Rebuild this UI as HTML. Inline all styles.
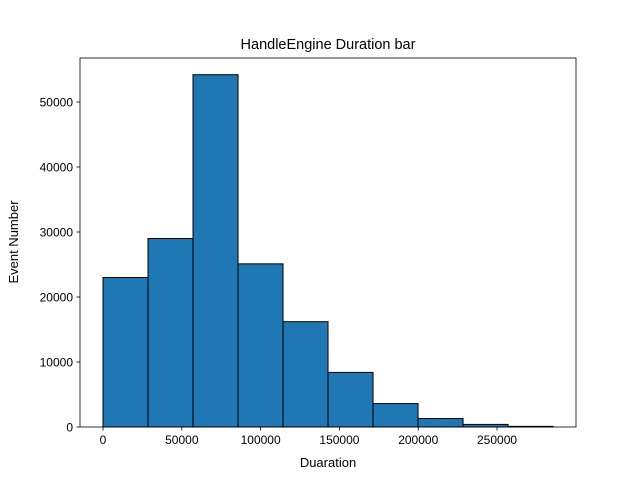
<!DOCTYPE html>
<html><head><meta charset="utf-8"><style>body{margin:0;background:#fff}svg{display:block;font-family:"Liberation Sans","DejaVu Sans",sans-serif}</style></head>
<body>
<svg id="chart" width="640" height="480" viewBox="0 0 640 480" xmlns="http://www.w3.org/2000/svg">
<rect width="640" height="480" fill="#fff"/>
<text x="328" y="49" text-anchor="middle" font-size="14.5">HandleEngine Duration bar</text>
<g id="bars"></g>
<g id="axes"></g>
<text x="328" y="467" text-anchor="middle" font-size="13">Duaration</text>
<text transform="translate(18,242) rotate(-90)" text-anchor="middle" font-size="13">Event Number</text>
</svg>
<script>
const binStart = 0;
const binWidth = 28553;
const counts = [23000, 29000, 54200, 25100, 16200, 8400, 3600, 1300, 400, 100];
const xTicks = [0, 50000, 100000, 150000, 200000, 250000];
const yTicks = [0, 10000, 20000, 30000, 40000, 50000];
const L=80,R=576,T=58,B=427;
const xMin=-14600,xMax=300100,yMin=0,yMax=56770;
const sx=v=>L+(v-xMin)/(xMax-xMin)*(R-L);
const sy=v=>B-(v-yMin)/(yMax-yMin)*(B-T);
const NS="http://www.w3.org/2000/svg";
function mk(tag,attrs,parent){const e=document.createElementNS(NS,tag);for(const k in attrs)e.setAttribute(k,attrs[k]);parent.appendChild(e);return e;}
const bars=document.getElementById('bars'),axes=document.getElementById('axes');
counts.forEach((c,i)=>{
  const x0=sx(binStart+i*binWidth),x1=sx(binStart+(i+1)*binWidth);
  const r=mk('rect',{x:x0,y:sy(c),width:x1-x0,height:sy(0)-sy(c),fill:'#1f77b4',stroke:'#000','stroke-width':1},bars);
  
  
});
const frame=mk('rect',{x:L,y:T,width:R-L,height:B-T,fill:'none',stroke:'#000','stroke-width':0.8},axes);


xTicks.forEach(v=>{
  const x=sx(v);
  mk('line',{x1:x,x2:x,y1:B,y2:B+3.5,stroke:'#000','stroke-width':0.8},axes);
  const t=mk('text',{x:x,y:B+17,'text-anchor':'middle','font-size':'12'},axes);
  t.textContent=String(v);
  
  
});
yTicks.forEach(v=>{
  const y=sy(v);
  mk('line',{x1:L-3.5,x2:L,y1:y,y2:y,stroke:'#000','stroke-width':0.8},axes);
  const t=mk('text',{x:L-7,y:y+4.5,'text-anchor':'end','font-size':'12'},axes);
  t.textContent=String(v);
  
  
});
</script>
</body></html>
